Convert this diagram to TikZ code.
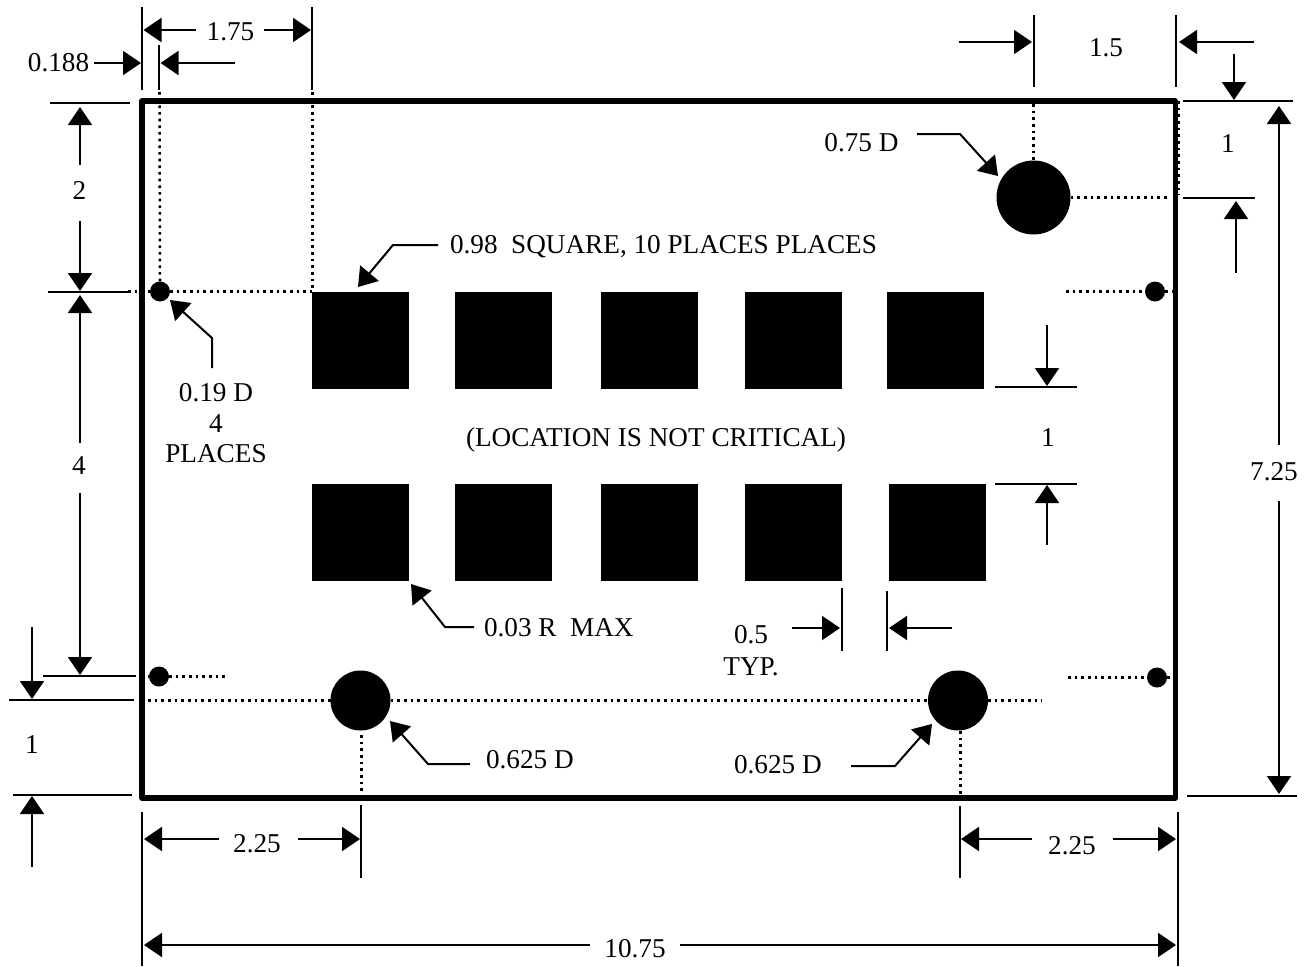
\documentclass[tikz,border=0pt]{standalone}
\usepackage{fontspec}
\setmainfont{Liberation Serif}
\usetikzlibrary{arrows.meta}
\tikzset{
  dimline/.style={line width=1.5pt},
  dimarrow/.style={line width=1.5pt,-{Triangle[length=13.5pt,width=18pt]}},
  dotline/.style={line width=1.9pt,dash pattern=on 2pt off 3pt},
  outline/.style={line width=3.9pt,line join=round},
  pad/.style={fill=black,draw=none,inner sep=0pt,minimum width=72.75pt,minimum height=72.75pt,outer sep=0pt},
  hole/.style={circle,fill=black,draw=none,inner sep=0pt,outer sep=0pt},
  lbl/.style={inner sep=0pt,outer sep=0pt,font=\fontsize{20.4}{22}\selectfont},
}
\begin{document}
\begin{tikzpicture}[x=0.75pt,y=-0.75pt]
\useasboundingbox (0,0) rectangle (1307,967);
% plate
\draw[outline] (142,101) rectangle (1175.5,798);
% pads
\foreach \n/\x in {a/360.5,b/503.5,c/649.5,d/793.5,e/935.5}{\node[pad] (t\n) at (\x,340) {};}
\foreach \n/\x in {a/360.5,b/503.5,c/649.5,d/793.5,e/937.5}{\node[pad] (b\n) at (\x,532.5) {};}
% holes
\node[hole,minimum size=15pt] (h1) at (160,291.5) {};
\node[hole,minimum size=15pt] (h2) at (1155,291.5) {};
\node[hole,minimum size=15pt] (h3) at (159,676.5) {};
\node[hole,minimum size=15pt] (h4) at (1157,677.5) {};
\node[hole,minimum size=45pt] (c1) at (360.5,700.5) {};
\node[hole,minimum size=45pt] (c2) at (958,700.5) {};
\node[hole,minimum size=55.5pt] (c3) at (1033.5,197.5) {};
% dotted
\draw[dotline] (159.5,92) -- (160,282);
\draw[dotline] (312.5,92) -- (312.5,291);
\draw[dotline] (128,291.5) -- (h1.west);
\draw[dotline] (h1.east) -- (312,291.5);
\draw[dotline] (1066,291.5) -- (h2.west);
\draw[dotline] (h2.east) -- (1172,291.5);
\draw[dotline] (148,676.5) -- (h3.west);
\draw[dotline] (h3.east) -- (228,676.5);
\draw[dotline] (1068,677.5) -- (h4.west);
\draw[dotline] (h4.east) -- (1172,677.5);
\draw[dotline] (148,700.5) -- (c1.west);
\draw[dotline] (c1.east) -- (c2.west);
\draw[dotline] (c2.east) -- (1042,700.5);
\draw[dotline] (361.5,735) -- (361.5,795);
\draw[dotline] (960.5,731) -- (960.5,795);
\draw[dotline] (1033.5,104) -- (c3.north);
\draw[dotline] (c3.east) -- (1170,197.5);
\draw[dotline] (1178.5,101) -- (1178.5,195);
% extension lines
\draw[dimline] (142,7) -- (142,90);
\draw[dimline] (159,45) -- (159,90);
\draw[dimline] (312,7) -- (312,90);
\draw[dimline] (1034,15) -- (1034,87);
\draw[dimline] (1176,15) -- (1176,87);
\draw[dimline] (50,103) -- (130,103);
\draw[dimline] (48,292) -- (128,292);
\draw[dimline] (43,676) -- (136,676);
\draw[dimline] (9,700) -- (134,700);
\draw[dimline] (13,795) -- (132,795);
\draw[dimline] (1183,101) -- (1293,101);
\draw[dimline] (1183,198) -- (1255,198);
\draw[dimline] (1187,796) -- (1297,796);
\draw[dimline] (995,387) -- (1077,387);
\draw[dimline] (995,484) -- (1077,484);
\draw[dimline] (361,805) -- (361,878);
\draw[dimline] (142,812) -- (142,966);
\draw[dimline] (960,806) -- (960,878);
\draw[dimline] (1178,812) -- (1178,966);
\draw[dimline] (842,588) -- (842,651);
\draw[dimline] (887,591) -- (887,651);
% labels
\node[lbl] (l175) at (230.5,32) {1.75};
\node[lbl] (l0188) at (58.5,63) {0.188};
\node[lbl] (l15) at (1106,48) {1.5};
\node[lbl] (l2) at (79.5,190) {2};
\node[lbl] (l4) at (79,466) {4};
\node[lbl] (l1a) at (32,745) {1};
\node[lbl] (l1b) at (1228,143.5) {1};
\node[lbl] (l1c) at (1048,438) {1};
\node[lbl] (l725) at (1274,472) {7.25};
\node[lbl] (l225a) at (257,844) {2.25};
\node[lbl] (l225b) at (1072,846) {2.25};
\node[lbl] (l1075) at (635,949) {10.75};
\node[lbl] (l075d) at (861.5,142.5) {0.75 D};
\node[lbl,anchor=west] (lsq) at (450,247) {0.98\ \ SQUARE, 10 PLACES PLACES};
\node[lbl] (lloc) at (656,440) {(LOCATION IS NOT CRITICAL)};
\node[lbl,align=center,font=\fontsize{20.4}{22.9}\selectfont] (l019) at (216,423.5) {0.19 D\\4\\PLACES};
\node[lbl,anchor=west] (l003) at (484,628) {0.03 R\ \ MAX};
\node[lbl,align=center,font=\fontsize{20.4}{24}\selectfont] (l05) at (751,650.5) {0.5\\TYP.};
\node[lbl,anchor=west] (l625a) at (486,760) {0.625 D};
\node[lbl,anchor=west] (l625b) at (734,765) {0.625 D};
% dimension arrows
\draw[dimarrow] (196,30) -- (143.5,30);
\draw[dimarrow] (264,30) -- (311,30);
\draw[dimarrow] (94,63) -- (141,63);
\draw[dimarrow] (235,63) -- (160.5,63);
\draw[dimarrow] (80,165) -- (80,107);
\draw[dimarrow] (80,221) -- (80,291);
\draw[dimarrow] (80,443) -- (80,295);
\draw[dimarrow] (80,493) -- (80,675);
\draw[dimarrow] (32,627) -- (32,699);
\draw[dimarrow] (32,867) -- (32,796);
\draw[dimarrow] (219,839) -- (144,839);
\draw[dimarrow] (298,839) -- (360,839);
\draw[dimarrow] (590,945) -- (144,945);
\draw[dimarrow] (680,945) -- (1176,945);
\draw[dimarrow] (1032,839) -- (961,839);
\draw[dimarrow] (1113,839) -- (1176,839);
\draw[dimarrow] (959,42) -- (1032,42);
\draw[dimarrow] (1254,42) -- (1179,42);
\draw[dimarrow] (1234,54) -- (1234,100);
\draw[dimarrow] (1279,445) -- (1279,106);
\draw[dimarrow] (1279,501) -- (1279,794);
\draw[dimarrow] (1236,273) -- (1236,201);
\draw[dimarrow] (1047,325) -- (1047,386);
\draw[dimarrow] (1047,545) -- (1047,485);
\draw[dimarrow] (792,628) -- (840,628);
\draw[dimarrow] (952,628) -- (889,628);
% leaders
\draw[dimarrow] (917,134) -- (960,134) -- (998,176);
\draw[dimarrow] (438,245) -- (393,245) -- (358,287);
\draw[dimarrow] (212,368) -- (212,338) -- (170,300);
\draw[dimarrow] (474,627) -- (445,627) -- (411,584);
\draw[dimarrow] (470,764) -- (428,764) -- (390,721);
\draw[dimarrow] (851,766) -- (895,766) -- (932,724);
\end{tikzpicture}
\end{document}
